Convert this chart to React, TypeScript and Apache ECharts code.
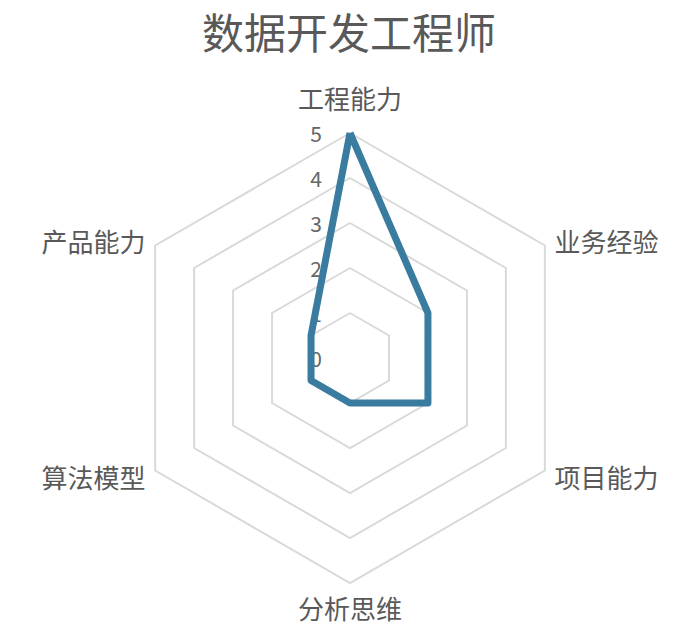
import React, { useEffect, useRef } from "react";
import * as echarts from "echarts";

const titleText = "数据开发工程师";
// clockwise from the top
const indicators = ["工程能力", "业务经验", "项目能力", "分析思维", "算法模型", "产品能力"];
const maxValue = 5;
const values = [5, 2, 2, 1, 1, 1];

// ECharts places radar indicators counter-clockwise; reorder to draw clockwise
const order = [0, ...indicators.slice(1).map((_, i) => indicators.length - 1 - i)];

export default function App() {
  const ref = useRef<HTMLDivElement>(null);
  useEffect(() => {
    if (!ref.current) return;
    const chart = echarts.init(ref.current, null, { renderer: "svg" });
    chart.setOption({
      animation: false,
      backgroundColor: "#ffffff",
      title: {
        text: titleText,
        left: "center",
        top: 4,
        textStyle: {
          fontFamily: "Noto Sans CJK SC",
          fontSize: 42,
          fontWeight: "normal",
          color: "#595959",
        },
      },
      radar: {
        center: [350, 358],
        radius: 225,
        startAngle: 90,
        splitNumber: 5,
        shape: "polygon",
        nameGap: 11,
        axisName: {
          color: "#595959",
          fontSize: 26,
          fontFamily: "Noto Sans CJK SC",
          formatter: (name: string) => (name === indicators[0] ? `{top|${name}}` : name),
          rich: {
            top: {
              color: "#595959",
              fontSize: 26,
              fontFamily: "Noto Sans CJK SC",
              padding: [0, 0, 12, 0],
            },
          },
        },
        axisLine: { show: false },
        axisTick: { show: false },
        axisLabel: { show: false },
        splitLine: { lineStyle: { color: "#d9d9d9", width: 2 } },
        splitArea: { show: false },
        indicator: order.map((idx, i) => ({
          name: indicators[idx],
          min: 0,
          max: maxValue,
          ...(i === 0
            ? {
                axisLabel: {
                  show: true,
                  color: "#666666",
                  fontSize: 21,
                  fontFamily: "Noto Sans CJK SC",
                  margin: 28,
                },
              }
            : {}),
        })),
      },
      series: [
        {
          type: "radar",
          symbol: "none",
          lineStyle: { color: "#3a7ca0", width: 7 },
          data: [{ value: order.map((idx) => values[idx]), name: titleText }],
        },
      ],
    });
    return () => chart.dispose();
  }, []);
  return (
    <div
      ref={ref}
      style={{ position: "fixed", left: 0, top: 0, width: 698, height: 634 }}
    />
  );
}
